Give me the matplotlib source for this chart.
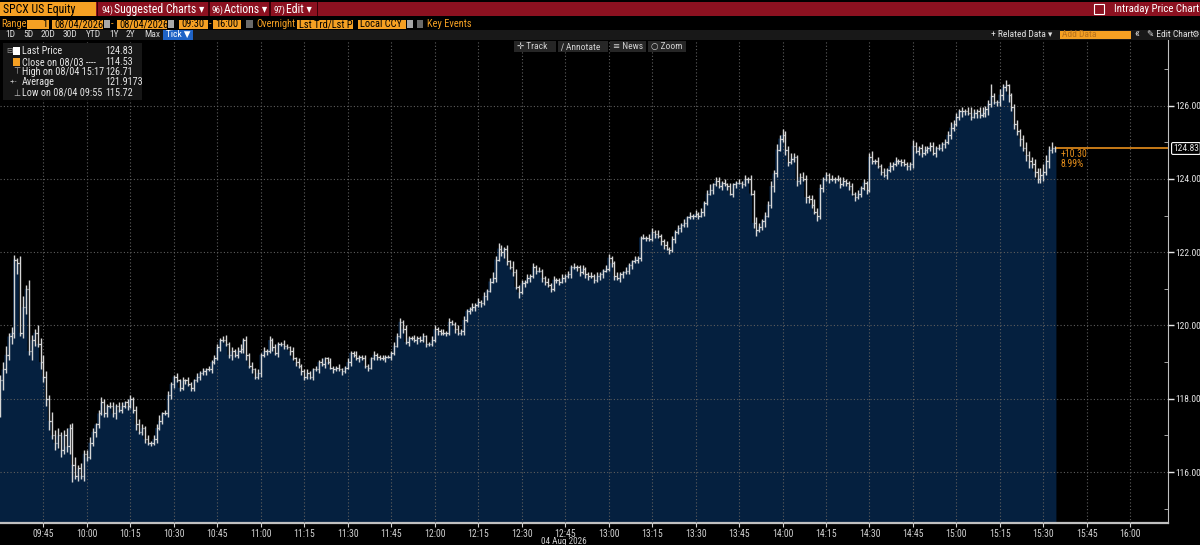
import numpy as np
import matplotlib.pyplot as plt
from matplotlib import font_manager as fm
from matplotlib.patches import Rectangle

# one bar per minute from 09:30, closing prices
close = [
    118.5, 118.8, 119.2, 119.7, 119.8, 121.8, 121.7, 119.8, 120.5, 121.0, 119.3, 119.6, 119.8, 119.5, 119.0,        # 09:30
    118.6, 118.0, 117.4, 117.0, 116.8, 117.0, 116.6, 117.0, 116.7, 117.2, 116.2, 115.9, 116.1, 115.9, 116.5,        # 09:45
    116.4, 116.8, 117.1, 117.3, 117.6, 117.9, 117.6, 117.8, 117.8, 117.6, 117.8, 117.7, 117.8, 117.9, 117.8,        # 10:00
    118.0, 117.7, 117.3, 117.1, 117.2, 116.9, 116.8, 116.8, 116.9, 117.2, 117.4, 117.6, 117.6, 118.1, 118.4,        # 10:15
    118.6, 118.5, 118.3, 118.5, 118.5, 118.4, 118.3, 118.5, 118.6, 118.7, 118.75, 118.8, 118.8, 119.0, 119.1,      # 10:30
    119.4, 119.6, 119.6, 119.5, 119.2, 119.3, 119.2, 119.3, 119.35, 119.6, 119.2, 118.9, 118.8, 118.6, 118.7,      # 10:45
    119.2, 119.3, 119.3, 119.6, 119.4, 119.25, 119.5, 119.5, 119.45, 119.4, 119.3, 119.1, 119.0, 118.9, 118.75,   # 11:00
    118.6, 118.7, 118.6, 118.8, 118.8, 119.0, 118.95, 119.1, 119.0, 118.85, 118.8, 118.85, 118.8, 118.75, 118.85, # 11:15
    119.0, 119.25, 119.2, 119.1, 119.15, 119.1, 118.9, 118.85, 119.1, 119.2, 119.15, 119.1, 119.1, 119.15, 119.15,  # 11:30
    119.25, 119.45, 119.7, 120.1, 119.9, 119.55, 119.65, 119.65, 119.6, 119.65, 119.6, 119.7, 119.5, 119.5, 119.6,  # 11:45
    119.9, 119.85, 119.8, 119.8, 119.8, 120.1, 120.05, 119.9, 119.8, 119.85, 120.15, 120.4, 120.45, 120.5, 120.55,  # 12:00
    120.65, 120.6, 120.8, 120.95, 121.2, 121.3, 121.8, 122.1, 122.0, 122.1, 121.75, 121.6, 121.45, 121.05, 120.9,   # 12:15
    121.15, 121.2, 121.3, 121.35, 121.6, 121.5, 121.5, 121.3, 121.2, 121.1, 121.0, 121.25, 121.25, 121.2, 121.3,   # 12:30
    121.35, 121.4, 121.6, 121.6, 121.6, 121.45, 121.55, 121.4, 121.35, 121.35, 121.25, 121.35, 121.4, 121.5, 121.55,  # 12:45
    121.85, 121.7, 121.35, 121.3, 121.4, 121.45, 121.5, 121.65, 121.75, 121.8, 121.85, 122.4, 122.4, 122.4, 122.35,   # 13:00
    122.55, 122.5, 122.45, 122.3, 122.2, 122.1, 122.05, 122.35, 122.55, 122.65, 122.75, 122.8, 122.95, 123.0, 123.0,  # 13:15
    123.05, 123.0, 123.1, 123.35, 123.6, 123.7, 123.85, 123.95, 123.8, 123.9, 123.85, 123.8, 123.6, 123.85, 123.9,   # 13:30
    123.9, 123.85, 124.0, 124.0, 123.6, 122.8, 122.6, 122.7, 122.85, 123.0, 123.3, 123.8, 124.15, 124.8, 125.1,      # 13:45
    125.2, 124.8, 124.45, 124.55, 124.6, 123.95, 124.05, 124.0, 123.5, 123.45, 123.3, 123.1, 123.0, 123.75, 124.0,   # 14:00
    124.1, 124.0, 124.0, 124.0, 124.0, 123.85, 123.95, 123.9, 123.8, 123.6, 123.5, 123.6, 123.75, 123.9, 123.7,      # 14:15
    124.6, 124.5, 124.5, 124.35, 124.2, 124.1, 124.25, 124.35, 124.4, 124.5, 124.5, 124.45, 124.4, 124.35, 124.4,    # 14:30
    124.9, 124.75, 124.85, 124.7, 124.8, 124.85, 124.9, 124.7, 124.85, 124.85, 124.95, 125.0, 125.2, 125.4, 125.5,   # 14:45
    125.7, 125.85, 125.85, 125.85, 125.8, 125.7, 125.8, 125.85, 125.75, 125.8, 125.9, 126.05, 126.25, 126.1, 126.1,  # 15:00
    126.3, 126.5, 126.55, 126.3, 125.95, 125.5, 125.3, 125.1, 124.85, 124.65, 124.5, 124.4, 124.2, 124.0, 124.1,     # 15:15
    124.2, 124.5, 124.8, 124.85, 124.83,                                                                              # 15:30
]
# how far each bar pokes above / below its open-close range, in cents
wick_up = [
    15, 20, 25, 10, 15, 10, 5, 20, 30, 10, 25, 15, 10, 20, 15,
    20, 15, 10, 25, 15, 20, 10, 15, 20, 10, 15, 20, 10, 15, 10,
    10, 15, 10, 5, 10, 15, 10, 5, 10, 10, 5, 10, 10, 5, 10,
    10, 5, 10, 15, 10, 5, 10, 5, 10, 10, 15, 5, 10, 10, 5,
    5, 10, 5, 10, 5, 10, 5, 5, 10, 5, 10, 5, 10, 5, 10,
    10, 5, 10, 15, 5, 10, 5, 10, 15, 5, 10, 5, 10, 5, 10,
    5, 10, 5, 10, 5, 10, 5, 5, 10, 5, 5, 10, 5, 10, 5,
    5, 10, 5, 5, 10, 5, 10, 5, 5, 10, 5, 5, 10, 5, 5,
    10, 5, 5, 10, 5, 5, 10, 5, 5, 10, 5, 5, 10, 5, 5,
    5, 10, 10, 10, 5, 10, 5, 5, 10, 5, 5, 10, 5, 5, 10,
    10, 5, 5, 10, 5, 10, 5, 5, 10, 5, 10, 5, 5, 10, 5,
    10, 5, 10, 5, 10, 15, 10, 15, 10, 5, 10, 5, 15, 10, 5,
    10, 5, 10, 5, 10, 5, 10, 5, 5, 10, 5, 10, 5, 5, 10,
    5, 10, 5, 10, 5, 5, 10, 5, 5, 10, 5, 10, 5, 5, 10,
    10, 5, 5, 10, 5, 5, 10, 5, 5, 10, 5, 5, 10, 5, 10,
    10, 5, 10, 5, 5, 10, 5, 10, 5, 10, 5, 10, 5, 10, 5,
    10, 5, 10, 5, 10, 15, 5, 10, 10, 5, 10, 5, 10, 5, 5,
    10, 5, 10, 5, 10, 10, 15, 10, 5, 10, 10, 15, 10, 15, 10,
    15, 10, 10, 15, 10, 5, 10, 15, 10, 5, 10, 15, 10, 10, 5,
    10, 5, 10, 5, 10, 5, 10, 5, 5, 10, 5, 10, 5, 10, 5,
    10, 15, 5, 10, 5, 10, 5, 10, 5, 10, 5, 5, 10, 5, 5,
    15, 10, 5, 10, 10, 5, 10, 10, 5, 10, 5, 10, 10, 15, 10,
    10, 5, 10, 5, 10, 15, 10, 5, 10, 15, 10, 10, 15, 10, 5,
    15, 10, 10, 5, 5, 10, 10, 5, 10, 15, 10, 10, 15, 10, 20,
    20, 15, 10, 15, 5,
]
wick_dn = [
    20, 25, 10, 15, 20, 15, 30, 10, 15, 20, 10, 25, 15, 10, 20,
    15, 20, 25, 10, 20, 15, 20, 10, 15, 20, 15, 10, 15, 10, 15,
    10, 5, 10, 15, 10, 5, 10, 10, 5, 10, 15, 5, 10, 5, 10,
    5, 10, 15, 5, 10, 10, 5, 10, 5, 10, 5, 10, 5, 10, 10,
    10, 5, 10, 5, 10, 5, 10, 10, 5, 10, 5, 10, 5, 10, 5,
    5, 10, 5, 5, 10, 15, 5, 10, 5, 10, 15, 5, 10, 5, 5,
    10, 5, 10, 5, 10, 5, 10, 5, 10, 5, 10, 5, 10, 5, 10,
    10, 5, 5, 10, 5, 10, 5, 10, 5, 5, 10, 5, 5, 10, 5,
    5, 10, 5, 5, 10, 5, 5, 10, 5, 5, 10, 5, 5, 10, 5,
    10, 5, 5, 5, 10, 5, 10, 5, 5, 10, 5, 5, 10, 5, 5,
    5, 10, 5, 5, 10, 5, 5, 10, 5, 5, 10, 5, 10, 5, 10,
    5, 10, 5, 10, 5, 5, 10, 5, 10, 15, 10, 5, 10, 5, 15,
    5, 10, 5, 10, 5, 10, 5, 10, 10, 5, 10, 5, 10, 10, 5,
    10, 5, 10, 5, 10, 10, 5, 10, 10, 5, 10, 5, 10, 10, 5,
    5, 10, 10, 5, 10, 10, 5, 10, 10, 5, 10, 10, 5, 10, 5,
    5, 10, 5, 10, 10, 5, 10, 5, 10, 5, 10, 5, 10, 5, 10,
    5, 10, 5, 10, 5, 5, 10, 5, 5, 10, 5, 10, 5, 10, 10,
    5, 10, 5, 10, 5, 15, 10, 5, 10, 15, 5, 10, 15, 10, 5,
    10, 15, 10, 5, 10, 15, 10, 5, 15, 10, 10, 5, 15, 10, 10,
    5, 10, 5, 10, 5, 10, 5, 10, 10, 5, 10, 5, 10, 5, 10,
    5, 10, 10, 5, 10, 5, 10, 5, 10, 5, 10, 10, 5, 10, 10,
    10, 5, 10, 10, 5, 10, 10, 5, 10, 5, 10, 10, 5, 10, 10,
    5, 10, 15, 10, 5, 10, 5, 15, 10, 5, 10, 15, 10, 5, 10,
    10, 15, 10, 20, 10, 15, 10, 20, 10, 15, 20, 10, 15, 10, 10,
    15, 10, 20, 10, 10,
]
# extremes named in the legend / clearly visible spikes (minute index: price)
bar_high = {5: 121.92, 270: 125.35, 342: 126.6, 347: 126.71}
bar_low = {0: 117.5, 25: 115.72, 261: 122.45, 282: 122.85}

time_labels = ["09:45", "10:00", "10:15", "10:30", "10:45", "11:00", "11:15", "11:30", "11:45", "12:00",
               "12:15", "12:30", "12:45", "13:00", "13:15", "13:30", "13:45", "14:00", "14:15", "14:30",
               "14:45", "15:00", "15:15", "15:30", "15:45", "16:00"]
price_ticks = [116, 118, 120, 122, 124, 126]
last_price = 124.83
legend_rows = [("Last Price", "124.83"), ("Close on 08/03 ----", "114.53"), ("High on 08/04 15:17", "126.71"),
               ("Average", "121.9173"), ("Low on 08/04 09:55", "115.72")]


# terminal text is narrow: use a condensed face if one is installed
def pick_narrow():
    prefs = ['Roboto Condensed', 'Liberation Sans Narrow', 'Noto Sans', 'Open Sans', 'DejaVu Sans']
    cands = [f for f in fm.fontManager.ttflist
             if f.style == 'normal' and str(f.weight) in ('400', 'normal', 'regular')
             and (str(f.stretch) in ('condensed', 'semi-condensed', 'extra-condensed')
                  or 'Narrow' in f.name or 'Condensed' in f.name)]
    for p in prefs:
        for f in cands:
            if f.name == p:
                return f
    return cands[0] if cands else None


nf = pick_narrow()
if nf is not None:
    plt.rcParams['font.family'] = [nf.name, 'DejaVu Sans']
    plt.rcParams['font.stretch'] = nf.stretch
    k = 1.0
else:
    plt.rcParams['font.family'] = ['DejaVu Sans']
    k = 0.82

ORANGE = '#f5a023'
RED = '#8c1120'
W, H = 1200, 545

fig = plt.figure(figsize=(12, 5.45), dpi=100, facecolor='black')


def fx(x):
    return x / W


def fy(y):
    return 1 - y / H


def box(x0, y0, x1, y1, color, ec='none', z=4):
    fig.add_artist(Rectangle((fx(x0), fy(y1)), (x1 - x0) / W, (y1 - y0) / H, transform=fig.transFigure,
                             fc=color, ec=ec, lw=0.8, zorder=z))


def label(x, y, s, color='#e6e6e6', size=7, ha='left', **kw):
    fig.text(fx(x), fy(y), s, color=color, fontsize=size * k, ha=ha, va='center', zorder=6, **kw)


# ---- chart area
ax = fig.add_axes([0, 1 - 523 / H, 1168 / W, (523 - 40) / H])
ax.set_facecolor('black')

c = np.array(close)
x = np.arange(len(c))
opn = np.r_[c[0], c[:-1]]
hi = np.maximum(opn, c) + np.array(wick_up) / 100
lo = np.minimum(opn, c) - np.array(wick_dn) / 100
for m, v in bar_high.items():
    hi[m] = v
for m, v in bar_low.items():
    lo[m] = v

ax.fill_between(np.r_[x - 0.5, x[-1] + 0.5], np.r_[c, c[-1]], 110, step='post', color='#05203f', lw=0, zorder=1)
ax.vlines(x, lo, hi, color='#d6d6d6', lw=1.0, zorder=3)
ax.hlines(opn, x - 0.45, x, color='#d6d6d6', lw=0.9, zorder=3)
ax.hlines(c, x, x + 0.45, color='#d6d6d6', lw=0.9, zorder=3)

ax.hlines(last_price, x[-1] + 0.5, 410, color='#e8901c', lw=1.2, zorder=3)
ax.text(x[-1] + 2, 124.68, "+10.30", color='#e8901c', fontsize=7 * k, va='center')
ax.text(x[-1] + 2, 124.40, "8.99%", color='#e8901c', fontsize=7 * k, va='center')

tick_pos = [int(t[:2]) * 60 + int(t[3:]) - 570 for t in time_labels]
ax.set_xticks(tick_pos)
ax.set_xticklabels(time_labels)
ax.set_xlim(0, 403)
ax.set_ylim(114.61, 127.79)
ax.yaxis.tick_right()
ax.set_yticks(price_ticks)
ax.set_yticklabels([f"{p:.2f}" for p in price_ticks])
ax.set_yticks([p + 1 for p in price_ticks[:-1]] + [115, 127], minor=True)

ax.tick_params(axis='x', colors='#d0d0d0', labelsize=7 * k, length=3, pad=1)
ax.tick_params(axis='y', which='major', colors='#e6e6e6', labelsize=6.8 * k, length=4, width=1, pad=1.5)
ax.tick_params(axis='y', which='minor', color='#bdbdbd', length=3, direction='in')
ax.grid(True, which='major', color='#5e5e5e', ls=(0, (1, 2)), lw=0.8)
ax.set_axisbelow(False)
for s in ['left', 'top']:
    ax.spines[s].set_visible(False)
ax.spines['right'].set_color('#c0c0c0')
ax.spines['bottom'].set_color('#c0c0c0')
ax.spines['bottom'].set_linewidth(1.6)

fig.text(fx(1173), fy(148.5), f"{last_price:.2f}", color='#e6e6e6', fontsize=6.8 * k, va='center', ha='left',
         bbox=dict(boxstyle='round,pad=0.15', fc='black', ec='white', lw=0.8))
label(564, 541, "04 Aug 2026", color='#d0d0d0', size=6.6, ha='center')

# ---- header row 1
box(0, 2, 1200, 16, RED)
box(0, 2, 96, 16, ORANGE)
label(3, 9.5, "SPCX US Equity", color='black', size=8.5)
for sx in [97, 208, 269, 317]:
    box(sx, 2, sx + 1.5, 16, '#3a0008', z=5)
for x0, num, name in [(101, "94)", "Suggested Charts \u25be"), (211, "96)", "Actions \u25be"), (273, "97)", "Edit \u25be")]:
    label(x0, 9.8, num, color='white', size=6.5)
    label(x0 + 13, 9.5, name, color='white', size=8.5)
box(1094, 4.5, 1104, 14, 'none', ec='white', z=5)
label(1199, 9.5, "Intraday Price Chart", color='white', size=7.8, ha='right')

# ---- header row 2
label(1, 24, "Range", color=ORANGE, size=7.5)
for x0, x1, s in [(27, 49, "1"), (52, 103, "08/04/2026"), (117, 167, "08/04/2026"), (179, 208, "09:30"),
                  (213, 241, "16:00"), (297, 353, "Lst Trd/Lst P:"), (358, 406, "Local CCY")]:
    box(x0, 19.5, x1, 28.5, ORANGE)
    if s == "1":
        label(x1 - 2, 24, s, color='black', size=7.5, ha='right')
    else:
        label(x0 + 2, 24, s, color='black', size=7.5)
for x0, x1 in [(104, 110), (168, 174), (407, 413)]:
    box(x0, 20, x1, 28, '#a8a8a8')
for x0, x1 in [(246, 253), (417, 423)]:
    box(x0, 20.5, x1, 27.5, '#6a6a6a')
label(111, 24, "-", color=ORANGE, size=7.5)
label(209, 24, "-", color=ORANGE, size=7.5)
label(256, 24, "Overnight", color=ORANGE, size=7.5)
label(427, 24, "Key Events", color=ORANGE, size=7.5)

# ---- header row 3
box(0, 29.5, 1200, 39.5, '#181818')
for xx, s in [(5, "1D"), (23, "5D"), (41, "20D"), (63, "30D"), (86, "YTD"), (109, "1Y"), (126, "2Y"), (144, "Max")]:
    label(xx, 34.5, s, color='#d8d8d8', size=6.8)
box(163, 30, 193, 39.5, '#1f63c6')
label(166, 34.5, "Tick \u25bc", color='white', size=6.8)
label(991, 34.5, "+ Related Data \u25be", color='#e0e0e0', size=6.8)
box(1060, 30.5, 1131, 39, ORANGE)
label(1062, 34.5, "Add Data", color='#b8721c', size=6.8)
label(1134, 34, "\u00ab", color='#e0e0e0', size=8.5)
label(1147, 34.5, "\u270e Edit Chart", color='#e0e0e0', size=6.8)
label(1199, 34.5, "\u2699", color='#e0e0e0', size=6.8, ha='right')

# ---- floating toolbar
for x0, x1, s in [(514, 556, "\u271b Track"), (558, 608, "\u2215 Annotate"), (610, 646, "\u2261 News"),
                  (648, 686, "\u25cb Zoom")]:
    box(x0, 41, x1, 52, '#262626')
    label(x0 + 3, 46.5, s, color='#d0d0d0', size=6.8)

# ---- legend box
box(3, 43, 142, 100, '#161616')
row_y = [51, 62, 72, 82, 93]
for (name, val), yy in zip(legend_rows, row_y):
    label(22, yy, name, size=7.3)
    label(105, yy, val, size=7.3)
box(13, 47, 20, 55, 'white', z=5)
box(13, 58, 20, 66, ORANGE, z=5)
label(6, 51, "\u229f", color='#9a9a9a', size=6)
label(13, 72, "\u22a4", color='#bdbdbd', size=6.5)
label(10, 82, "-+-", color='#bdbdbd', size=5.5)
label(13, 93, "\u22a5", color='#bdbdbd', size=6.5)

fig.savefig('out.png', dpi=100, facecolor='black')
